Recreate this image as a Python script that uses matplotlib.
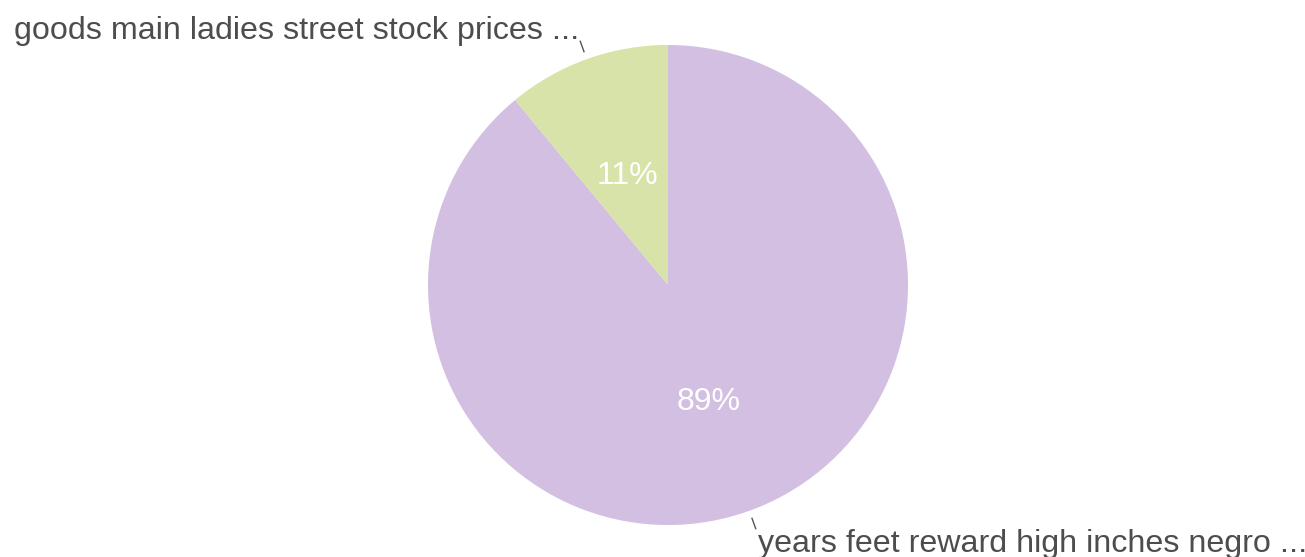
import numpy as np
import matplotlib
matplotlib.use("Agg")
import matplotlib.pyplot as plt

labels = ["years feet reward high inches negro ...", "goods main ladies street stock prices ..."]
values = [89, 11]
colors = ["#d2bfe1", "#d7e3a8"]

W, H = 1305, 557
fig = plt.figure(figsize=(W / 100, H / 100), dpi=100)
ax = fig.add_axes([0, 0, 1, 1])

cx, cy, r = 668, H - 285, 240
wedges, texts, autotexts = ax.pie(
    values, colors=colors, startangle=90, counterclock=False,
    center=(cx, cy), radius=r, autopct="%d%%", pctdistance=0.5,
    textprops=dict(color="white", fontsize=23, family="Liberation Sans"),
    wedgeprops=dict(linewidth=0), frame=True)
for t in autotexts:
    x, y = t.get_position()
    t.set_position((x, y - 4))
ax.set_xlim(0, W)
ax.set_ylim(0, H)
ax.set_aspect("equal")
ax.axis("off")

# label positions (pixel layout)
label_pos = [(758, H - 544, "left"), (579, H - 31, "right")]
for w, lab, (tx, ty, ha) in zip(wedges, labels, label_pos):
    ang = np.deg2rad((w.theta1 + w.theta2) / 2)
    ex, ey = cx + (r + 8) * np.cos(ang), cy + (r + 8) * np.sin(ang)
    ox, oy = cx + (r + 19) * np.cos(ang), cy + (r + 19) * np.sin(ang)
    ax.plot([ex, ox], [ey, oy], color="#555555", lw=1)
    ax.text(tx, ty, lab, ha=ha, va="center", fontsize=23.2,
            color="#4d4d4d", family="Liberation Sans")

fig.savefig("out.png", dpi=100)
